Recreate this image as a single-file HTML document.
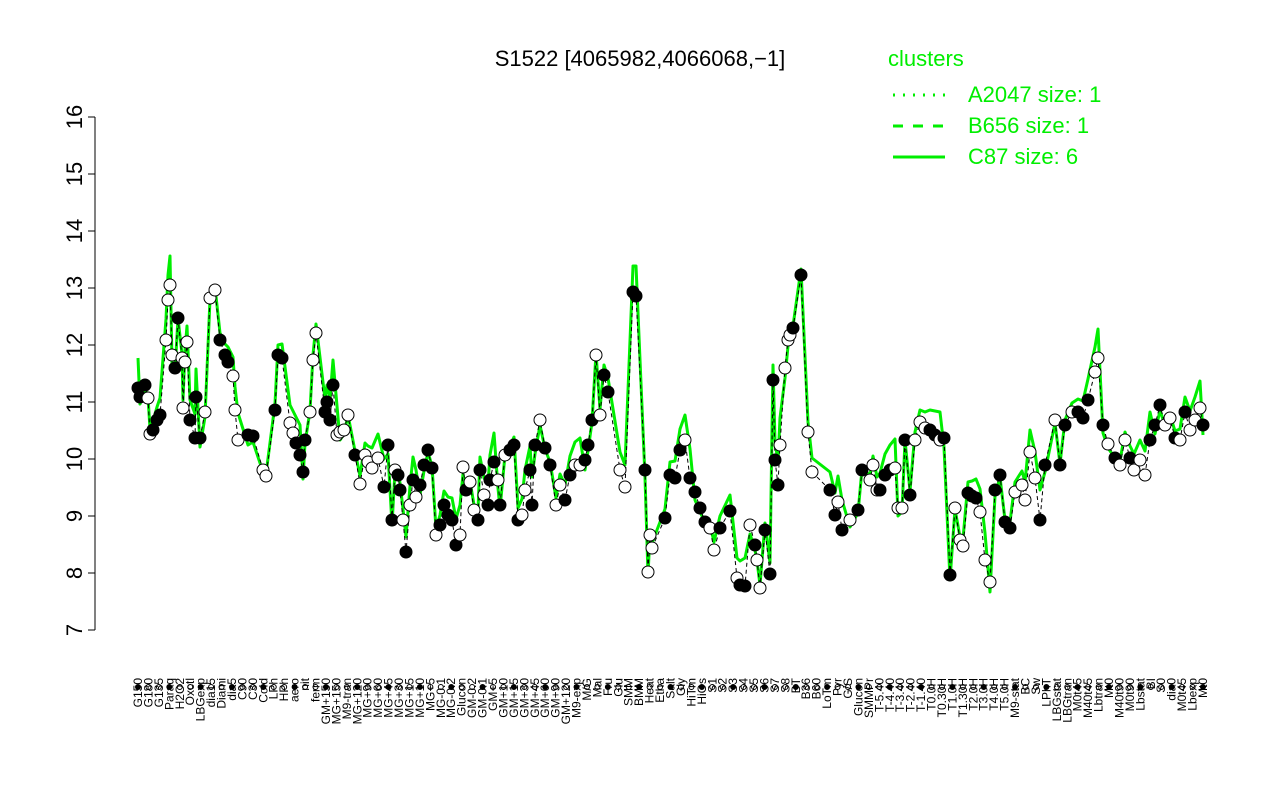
<!DOCTYPE html>
<html><head><meta charset="utf-8"><style>
body{margin:0;background:#fff}
svg{display:block;font-family:"Liberation Sans",sans-serif}
</style></head><body>
<svg id="s" width="1280" height="800" xmlns="http://www.w3.org/2000/svg">
<rect width="1280" height="800" fill="#fff"/>
<text x="640" y="66" font-size="22" text-anchor="middle">S1522 [4065982,4066068,−1]</text>
<line x1="95" y1="117" x2="95" y2="630" stroke="#000"/>
<g id="yt"></g>
<g id="gl"></g>
<g id="bl"></g>
<g id="pts"></g>
<g id="xl" font-size="12"></g>
<text x="888" y="66" font-size="22" fill="#00ee00">clusters</text>
<line x1="893" y1="95" x2="945" y2="95" stroke="#00ee00" stroke-width="3" stroke-dasharray="2,8"/>
<line x1="893" y1="126" x2="945" y2="126" stroke="#00ee00" stroke-width="3" stroke-dasharray="10,10"/>
<line x1="893" y1="157" x2="945" y2="157" stroke="#00ee00" stroke-width="3"/>
<text x="968" y="102" font-size="22" fill="#00ee00">A2047 size: 1</text>
<text x="968" y="133" font-size="22" fill="#00ee00">B656 size: 1</text>
<text x="968" y="164" font-size="22" fill="#00ee00">C87 size: 6</text>
</svg>
<script>
var NS="http://www.w3.org/2000/svg";
function el(p,t,a,txt){var e=document.createElementNS(NS,t);for(var k in a)e.setAttribute(k,a[k]);if(txt)e.textContent=txt;document.getElementById(p).appendChild(e);return e;}
for(var v=7;v<=16;v++){var y=630-(v-7)*57;el("yt","line",{x1:88,y1:y,x2:95,y2:y,stroke:"#000"});
el("yt","text",{x:0,y:0,"font-size":22,"text-anchor":"middle",transform:"translate(82,"+y+") rotate(-90)"},""+v);}
var P="138,388,f;140,397,f;145,385,f;148,398,o;150,434,o;153,430,f;157,420,f;160,415,f;166,340,o;168,300,o;170,285,o;172,355,o;175,368,f;178,318,f;182,358,o;185,362,o;187,342,o;183,408,o;190,420,f;195,438,f;196,397,f;200,438,f;205,412,o;210,298,o;215,290,o;220,340,f;225,355,f;228,362,f;233,376,o;235,410,o;238,440,o;248,435,f;253,436,f;263,470,o;266,476,o;275,410,f;278,355,f;282,358,f;290,423,o;293,433,o;296,443,f;300,455,f;303,472,f;305,440,f;310,412,o;313,360,o;316,333,o;325,412,f;327,402,f;330,420,f;333,385,f;337,435,o;340,432,o;344,430,o;348,415,o;355,455,f;360,484,o;365,455,o;368,462,o;372,468,o;378,458,o;384,487,f;388,445,f;392,520,f;395,470,o;398,475,f;400,490,f;403,520,o;406,552,f;410,505,o;413,480,f;416,497,o;420,485,f;424,465,f;428,450,f;432,468,f;436,535,o;440,525,f;444,505,f;448,515,f;452,520,f;456,545,f;460,535,o;463,467,o;466,490,f;470,482,o;474,510,o;478,520,f;480,470,f;484,495,o;488,505,f;490,480,f;494,462,f;498,480,o;500,505,f;505,455,o;510,450,f;514,445,f;518,520,f;522,515,o;525,490,o;530,470,f;532,505,f;535,445,f;540,420,o;545,448,f;550,465,f;556,505,o;560,485,o;565,500,f;570,475,f;575,465,o;580,465,o;585,460,f;588,445,f;592,420,f;596,355,o;600,415,o;604,375,f;608,392,f;620,470,o;625,487,o;633,292,f;636,296,f;645,470,f;650,535,o;652,548,o;648,572,o;665,518,f;670,475,f;675,478,f;680,450,f;685,440,o;690,478,f;695,492,f;700,508,f;705,522,f;710,528,o;714,550,o;720,528,f;730,511,f;737,578,o;740,585,f;745,586,f;750,525,o;755,545,f;757,560,o;760,588,o;765,530,f;770,574,f;773,380,f;775,460,f;778,485,f;780,445,o;785,368,o;788,340,o;790,335,o;793,328,f;801,275,f;808,432,o;812,472,o;830,490,f;835,515,f;838,502,o;842,530,f;850,520,o;858,510,f;862,470,f;870,480,o;873,465,o;877,490,o;880,490,f;885,475,f;890,470,f;895,468,o;898,508,o;902,508,o;905,440,f;910,495,f;915,440,o;920,422,o;925,428,o;930,430,f;935,435,f;940,440,o;944,438,f;950,575,f;955,508,o;960,540,o;963,546,o;968,493,f;972,496,f;976,498,f;980,512,o;985,560,o;990,582,o;995,490,f;1000,475,f;1005,522,f;1010,528,f;1015,492,o;1022,485,o;1025,500,o;1030,452,o;1035,478,o;1040,520,f;1045,465,f;1055,420,o;1060,465,f;1065,425,f;1072,412,o;1078,412,f;1083,418,f;1088,400,f;1095,372,o;1098,358,o;1103,425,f;1108,444,o;1115,458,f;1120,465,o;1125,440,o;1130,458,f;1134,470,o;1140,460,o;1145,475,o;1150,440,f;1155,425,f;1160,405,f;1165,425,o;1170,418,o;1175,438,f;1180,440,o;1185,412,f;1190,430,o;1195,420,o;1200,408,o;1203,425,f";
var pts=P.split(";").map(function(s){var a=s.split(",");return [+a[0],+a[1],a[2]];});
pts.sort(function(a,b){return a[0]-b[0];});
var d="",g="";
pts.forEach(function(p,i){d+=(i?"L":"M")+p[0]+","+p[1];var off=((i*37)%41)-30;g+=(i?"L":"M")+p[0]+","+Math.min(610,p[1]+off);});
el("gl","path",{d:g,fill:"none",stroke:"#00ee00","stroke-width":3,"stroke-linejoin":"round"});
el("bl","path",{d:d,fill:"none",stroke:"#000","stroke-width":1,"stroke-dasharray":"4,3"});
pts.forEach(function(p){el("pts","circle",{cx:p[0],cy:p[1],r:6,fill:p[2]=="f"?"#000":"#fff",stroke:"#000"});});
var names="G150 G180 G135 Paraq H2O2 Oxctl LBGexp dia15 Diami dia5 C90 C30 Cold LPh HPh aero nit ferm GM+150 MG+150 M9-tran MG+120 MG+90 MG+60 MG+45 MG+30 MG+15 MG+10 MG+5 MG-0.1 MG-0.2 Glucon GM-0.2 GM-0.1 GM+5 GM+10 GM+15 GM+30 GM+45 GM+60 GM+90 GM+120 M9-exp M/G Mal Fru Glu SMM BMM Heat Etha Salt Gly HiTm HiOs S1 S2 S3 S4 S5 S6 S7 S8 BT B36 B60 LoTm Pyr G/S Glucon SMMPr T-5.40 T-4.40 T-3.40 T-2.40 T-1.40 T0.0H T0.30H T1.0H T1.30H T2.0H T3.0H T4.0H T5.0H M9-stat BC Sw LPhT LBGstat LBGtran M0t45 M40t45 Lbtran Mt0 M40t90 M0t90 Lbstat BI S0 dia0 M0t45 Lbexp Mt0".split(" ");
var n=names.length;
for(var i=0;i<n;i++){var x=138+i*(1065/(n-1));
el("xl","circle",{cx:x,cy:687,r:2.5,fill:i%3?"#fff":"#000",stroke:"#000"});
el("xl","text",{x:0,y:0,"text-anchor":"end",transform:"translate("+(x+4)+",678) rotate(-90)"},names[i]);}
</script>
</body></html>
